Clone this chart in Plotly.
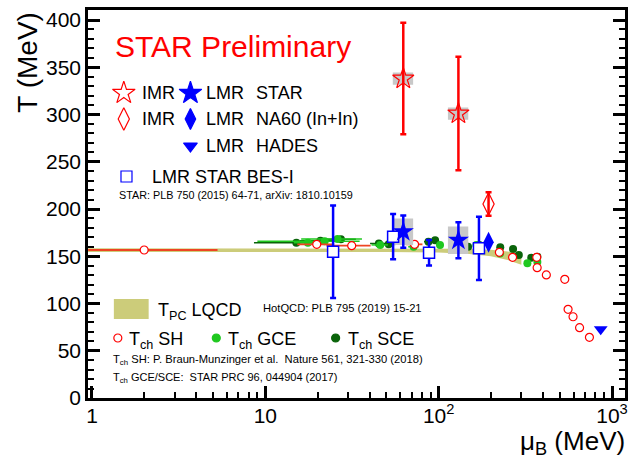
import plotly.graph_objects as go

# ---------------- data ----------------
# T_pc from lattice QCD (HotQCD) band
band_mu = [0.9, 10, 50, 100, 150, 200, 250, 300]
band_T_lo = [154.5, 154.5, 154.5, 154.0, 152.5, 150.0, 146.0, 141.0]
band_T_hi = [158.5, 158.5, 158.5, 158.5, 158.0, 157.0, 155.0, 152.0]

# T_ch statistical hadronization (SH)
sh_mu = [2.0, 19.8, 31.5, 72.6, 224, 267, 368, 370, 418, 534, 558, 596, 650, 741]
sh_T = [156.6, 162.6, 161.2, 162.6, 154.2, 148.9, 148.9, 137.9, 130.2, 125.6, 93.8, 86.0, 74.4, 64.2]
sh_mu_err_plus = [3.3, 4.5, 9.0, 8.0, 0, 0, 0, 0, 0, 0, 0, 0, 0, 0]
sh_mu_err_minus = [1.05, 4.5, 9.0, 8.0, 0, 0, 0, 0, 0, 0, 0, 0, 0, 0]

# T_ch SCE (dark green)
sce_mu = [15.1, 20.8, 27.3, 45.2, 51.5, 87.3, 95.4, 147.8, 171.6, 226.6, 268.7, 290, 342, 371]
sce_T = [164.2, 166.3, 168.0, 163.5, 162.6, 165.4, 167.0, 160.1, 162.0, 159.5, 157.7, 151.3, 148.5, 149.5]
sce_mu_err = [6.5, 5, 6, 5, 5, 5, 5, 6, 6, 8, 8, 8, 8, 8]

# T_ch GCE (light green)
gce_mu = [17.6, 22.0, 26.1, 46.0, 71.7, 101.8, 165, 226, 325, 371]
gce_T = [164.3, 166.0, 168.3, 162.0, 160.0, 161.9, 162.0, 153.0, 142.5, 144.0]
gce_mu_err = [3, 13, 10, 5, 5, 5, 6, 8, 8, 8]

# LMR STAR BES-I
bes_mu = [24.6, 54.6, 88.0, 170.8]
bes_T = [154.8, 170.7, 153.6, 158.4]
bes_err = [49.0, 24.0, 13.5, 33.5]

# LMR STAR (filled stars)
lmr_star_mu = [62.5, 130.0]
lmr_star_T = [176.0, 167.0]
lmr_star_err = [17.0, 19.0]
lmr_star_sys = [14.0, 14.5]

# IMR STAR (open stars)
imr_star_mu = [62.5, 130.0]
imr_star_T = [338.0, 301.0]
imr_star_err = [59.0, 60.0]
imr_star_sys = [6.5, 6.5]

# NA60 (In+In)
na60_lmr_mu = [194.0]
na60_lmr_T = [164.7]
na60_imr_mu = [194.0]
na60_imr_T = [205.3]
na60_imr_err = [12.5]

# HADES
hades_mu = [861.0]
hades_T = [72.7]

# tick labels
x_tickvals = [1, 10, 100, 1000]
x_ticktext = ["1", "10", "10<sup>2</sup>", "10<sup>3</sup>"]
x_minor_tickvals = [d * m for m in (1, 10, 100) for d in range(2, 10)]
y_tickvals = [0, 50, 100, 150, 200, 250, 300, 350, 400]

# ---------------- styles ----------------
RED = "#ff0000"
BLUE = "#0000ff"
LGREEN = "#1fc81f"
DGREEN = "#0a640a"
OLIVE = "#cccc7a"
GRAY = "#c8c8c8"
FONT = "Liberation Sans, Arial, sans-serif"
SMALLFONT = "Liberation Sans, Arial, sans-serif"

fig = go.Figure()

# band
fig.add_trace(go.Scatter(
    x=band_mu + band_mu[::-1], y=band_T_hi + band_T_lo[::-1],
    fill="toself", fillcolor=OLIVE, line=dict(width=0), mode="lines",
    hoverinfo="skip", showlegend=False))


def sys_boxes(mu, T, s, lo=0.87, hi=1.14):
    xs, ys = [], []
    for m, t, e in zip(mu, T, s):
        xs += [m * lo, m * hi, m * hi, m * lo, m * lo, None]
        ys += [t - e, t - e, t + e, t + e, t - e, None]
    return xs, ys


# green SCE
fig.add_trace(go.Scatter(
    x=sce_mu, y=sce_T, mode="markers",
    marker=dict(symbol="circle", size=8, color=DGREEN),
    error_x=dict(type="data", array=sce_mu_err, color=DGREEN, thickness=1.5, width=0),
    showlegend=False))
# green GCE
fig.add_trace(go.Scatter(
    x=gce_mu, y=gce_T, mode="markers",
    marker=dict(symbol="circle", size=8, color=LGREEN),
    error_x=dict(type="data", array=gce_mu_err, color=LGREEN, thickness=1.5, width=0),
    showlegend=False))
# SH
fig.add_trace(go.Scatter(
    x=sh_mu, y=sh_T, mode="markers",
    marker=dict(symbol="circle", size=8, color="white", line=dict(color=RED, width=1.2)),
    error_x=dict(type="data", array=sh_mu_err_plus, arrayminus=sh_mu_err_minus,
                 color="#ee4422", thickness=1.8, width=0),
    showlegend=False))

# systematic boxes
bx, by = sys_boxes(lmr_star_mu, lmr_star_T, lmr_star_sys)
fig.add_trace(go.Scatter(x=bx, y=by, fill="toself", fillcolor=GRAY, mode="lines",
                         line=dict(width=0), hoverinfo="skip", showlegend=False))
bx, by = sys_boxes(imr_star_mu, imr_star_T, imr_star_sys)
fig.add_trace(go.Scatter(x=bx, y=by, fill="toself", fillcolor=GRAY, mode="lines",
                         line=dict(width=0), hoverinfo="skip", showlegend=False))

# BES-I squares
fig.add_trace(go.Scatter(
    x=bes_mu, y=bes_T, mode="markers",
    marker=dict(symbol="square", size=11, color="white", line=dict(color=BLUE, width=1.5)),
    error_y=dict(type="data", array=bes_err, color=BLUE, thickness=2.5, width=3),
    showlegend=False))
# LMR STAR stars
fig.add_trace(go.Scatter(
    x=lmr_star_mu, y=lmr_star_T, mode="markers",
    marker=dict(symbol="star", size=16, color=BLUE),
    error_y=dict(type="data", array=lmr_star_err, color=BLUE, thickness=2.5, width=3),
    showlegend=False))
# IMR STAR stars
fig.add_trace(go.Scatter(
    x=imr_star_mu, y=imr_star_T, mode="markers",
    marker=dict(symbol="star-open", size=16, color=RED, line=dict(width=1.2)),
    error_y=dict(type="data", array=imr_star_err, color=RED, thickness=2.5, width=3),
    showlegend=False))
# NA60
fig.add_trace(go.Scatter(
    x=na60_lmr_mu, y=na60_lmr_T, mode="markers",
    marker=dict(symbol="diamond-tall", size=15, color=BLUE),
    showlegend=False))
fig.add_trace(go.Scatter(
    x=na60_imr_mu, y=na60_imr_T, mode="markers",
    marker=dict(symbol="diamond-tall-open", size=16, color=RED, line=dict(width=1.2)),
    error_y=dict(type="data", array=na60_imr_err, color=RED, thickness=2.5, width=3),
    showlegend=False))
# HADES
fig.add_trace(go.Scatter(
    x=hades_mu, y=hades_T, mode="markers",
    marker=dict(symbol="triangle-down", size=12, color=BLUE),
    showlegend=False))

# ---------------- legend (overlay pixel-like axes) ----------------
leg = [
    (124, 93, "star-open", 17, RED),
    (191, 93, "star", 17, BLUE),
    (124, 119, "diamond-tall-open", 16, RED),
    (191, 119, "diamond-tall", 15, BLUE),
    (191, 146, "triangle-down", 12, BLUE),
    (126.7, 176.5, "square-open", 11, BLUE),
    (118, 338, "circle-open", 8, RED),
    (217, 338, "circle", 8, LGREEN),
    (337, 338, "circle", 8, DGREEN),
]
for lx, ly, sym, sz, col in leg:
    fig.add_trace(go.Scatter(
        x=[lx], y=[ly], xaxis="x2", yaxis="y2", mode="markers",
        marker=dict(symbol=sym, size=sz, color=col, line=dict(width=1.2, color=col)),
        hoverinfo="skip", showlegend=False))

fig.add_shape(type="rect", xref="x2", yref="y2", x0=114, x1=149, y0=299, y1=319,
              fillcolor=OLIVE, line=dict(width=0))


def txt(x, y, s, size=18, color="black", xanchor="left", family=FONT):
    fig.add_annotation(x=x, y=y, xref="x2", yref="y2", text=s, showarrow=False,
                       xanchor=xanchor, yanchor="middle",
                       font=dict(size=size, color=color, family=family))


NB = "&nbsp;"
txt(113, 46, "STAR Preliminary", size=30, color=RED)
txt(140, 93, "IMR")
txt(205, 93, "LMR")
txt(255, 93, "STAR")
txt(140, 119, "IMR")
txt(205, 119, "LMR")
txt(255, 119, "NA60 (In+In)")
txt(205, 146, "LMR")
txt(255, 146, "HADES")
txt(150, 176.5, "LMR STAR BES-I")
txt(117, 195, "STAR: PLB 750 (2015) 64-71, arXiv: 1810.10159", size=10.8, family=SMALLFONT)
txt(156, 311, "T<sub>PC</sub> LQCD")
txt(262, 308, "HotQCD: PLB 795 (2019) 15-21", size=11.2, family=SMALLFONT)
txt(127, 340, "T<sub>ch</sub> SH")
txt(227, 340, "T<sub>ch</sub> GCE")
txt(347, 340, "T<sub>ch</sub> SCE")
txt(111, 360, "T<sub>ch</sub> SH: P. Braun-Munzinger et al." + NB + " Nature 561, 321-330 (2018)",
    size=11.2, family=SMALLFONT)
txt(111, 378, "T<sub>ch</sub> GCE/SCE:" + NB + " STAR PRC 96, 044904 (2017)", size=11, family=SMALLFONT)

# axis titles (paper coordinates)
fig.add_annotation(x=-0.113, y=0.865, xref="paper", yref="paper", text="T (MeV)",
                   showarrow=False, textangle=-90, xanchor="center", yanchor="middle",
                   font=dict(size=28, family=FONT, color="black"))
fig.add_annotation(x=1.003, y=-0.115, xref="paper", yref="paper", text="μ<sub>B</sub> (MeV)",
                   showarrow=False, xanchor="right", yanchor="middle",
                   font=dict(size=26, family=FONT, color="black"))

fig.update_layout(
    width=630, height=462,
    margin=dict(l=88, r=2, t=10, b=64),
    paper_bgcolor="white", plot_bgcolor="white",
    font=dict(family=FONT, color="black"),
    xaxis=dict(
        type="log", range=[-0.023, 3.075],
        tickmode="array", tickvals=x_tickvals, ticktext=x_ticktext,
        ticks="inside", ticklen=12, tickwidth=2.5, tickcolor="black",
        minor=dict(ticks="inside", tickmode="array", tickvals=x_minor_tickvals,
                   ticklen=6, tickwidth=2, tickcolor="black", showgrid=False),
        showline=True, linewidth=2.5, linecolor="black", mirror=True,
        showgrid=False, zeroline=False, ticklabelstandoff=-3,
        tickfont=dict(size=21, family=FONT, color="black"),
    ),
    yaxis=dict(
        range=[0, 410.6],
        tickmode="array", tickvals=y_tickvals,
        ticks="inside", ticklen=12, tickwidth=2.5, tickcolor="black",
        minor=dict(ticks="inside", dtick=10, ticklen=6, tickwidth=2, tickcolor="black", showgrid=False),
        showline=True, linewidth=2.5, linecolor="black", mirror="ticks",
        showgrid=False, zeroline=False,
        tickfont=dict(size=21, family=FONT, color="black"),
    ),
    xaxis2=dict(overlaying="x", range=[88, 628], visible=False, fixedrange=True),
    yaxis2=dict(overlaying="y", range=[398, 10], visible=False, fixedrange=True),
)

fig.write_html("out.html", config={"displayModeBar": False},
               post_script="document.body.style.margin='0';document.body.style.padding='0';")
